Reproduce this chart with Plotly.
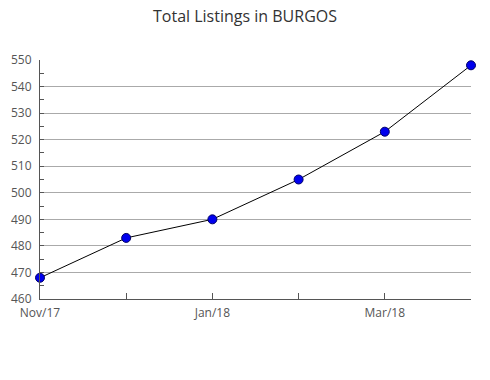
import plotly.graph_objects as go

months = ["Nov/17", "Dec/17", "Jan/18", "Feb/18", "Mar/18", "Apr/18"]
listings = [468, 483, 490, 505, 523, 548]
tick_labels = ["Nov/17", "", "Jan/18", "", "Mar/18", ""]
y_ticks = [460, 470, 480, 490, 500, 510, 520, 530, 540, 550]

x_idx = list(range(len(months)))

fig = go.Figure()
fig.add_trace(go.Scatter(
    x=x_idx, y=listings, mode="lines+markers",
    line=dict(color="black", width=1),
    marker=dict(symbol="circle", size=9, color="#0000ee",
                line=dict(color="#000066", width=1)),
    hovertext=months, cliponaxis=False,
))

fig.update_layout(
    width=490, height=380,
    margin=dict(l=40, r=19, t=60, b=81),
    paper_bgcolor="white", plot_bgcolor="white",
    showlegend=False,
    title=dict(text="Total Listings in BURGOS", x=0.5, xanchor="center",
               y=1 - 16/380, yanchor="middle",
               font=dict(family="Open Sans", size=16, color="#333333")),
    font=dict(family="Open Sans", size=12, color="#555555"),
)
fig.update_xaxes(
    range=[0, 5], tickmode="array", tickvals=x_idx, ticktext=tick_labels,
    ticks="inside", ticklen=6, tickcolor="#555555", tickwidth=1,
    showline=True, linecolor="#555555", linewidth=1,
    showgrid=False, zeroline=False, ticklabelstandoff=3,
)
fig.update_yaxes(
    range=[460, 550], tickmode="array", tickvals=y_ticks,
    ticks="inside", ticklen=4, tickcolor="#555555",
    showline=True, linecolor="#555555", linewidth=1,
    showgrid=True, gridcolor="#aaaaaa", gridwidth=1, zeroline=False,
    ticklabelstandoff=5,
    minor=dict(dtick=5, tick0=460, ticks="inside", ticklen=4, tickcolor="#555555", showgrid=False),
)

fig.write_html("out.html")
